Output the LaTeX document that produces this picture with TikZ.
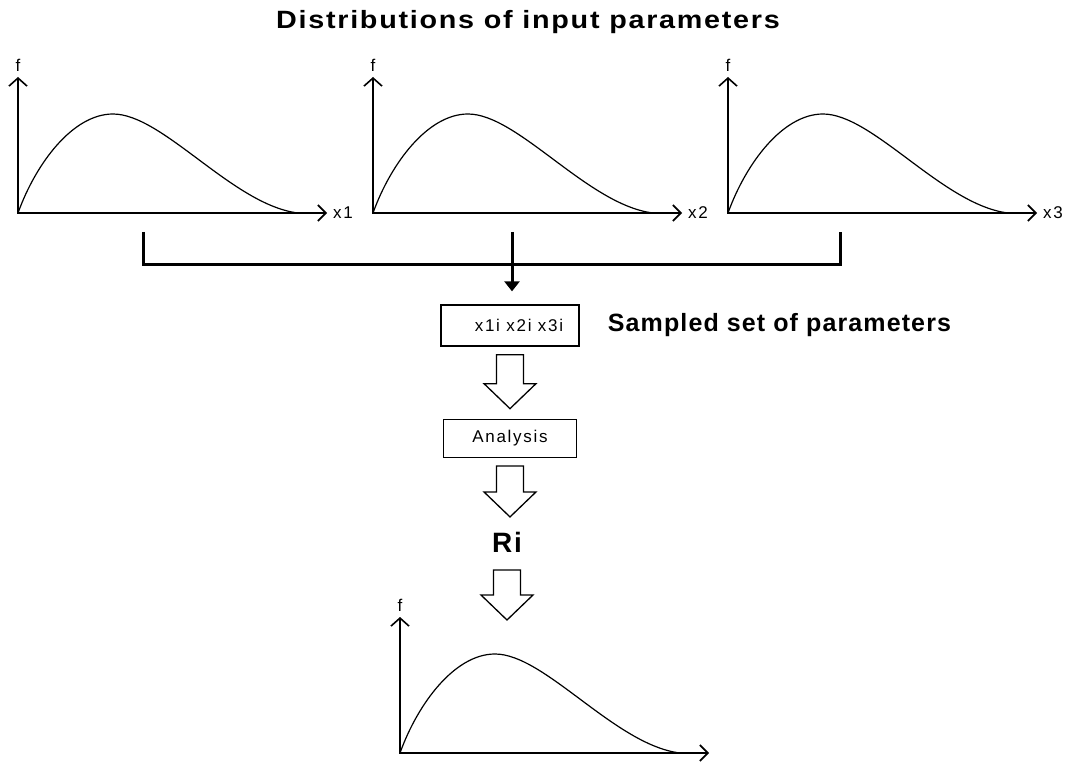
\documentclass[tikz,border=0pt]{standalone}
\usepackage{fontspec}
\setmainfont{Liberation Sans}
\usetikzlibrary{arrows.meta,positioning,calc}

% density curve, drawn from an origin coordinate
\newcommand{\densitycurve}[1]{%
  \draw[curve, shift={(#1)}] (0,0) .. controls (18,-50) and (55,-99) .. (95,-99)
    .. controls (145,-99) and (215,-8) .. (280,0);}
% hollow block arrow from #1 down to #2
\newcommand{\fatarrow}[2]{%
  \draw[fat] let \p1=(#1), \p2=(#2) in
    (\x1-13.5pt,\y1) -- (\x1+13.5pt,\y1) -- (\x1+13.5pt,\y2+25pt) -- (\x1+26pt,\y2+25pt)
    -- (\x1,\y2) -- (\x1-26pt,\y2+25pt) -- (\x1-13.5pt,\y2+25pt) -- cycle;}

\begin{document}
\begin{tikzpicture}[x=1pt, y=-1pt,
    axis/.style={line width=1.6pt, {Straight Barb[length=8pt,width=18pt]}-{Straight Barb[length=8pt,width=16pt]}},
    curve/.style={line width=1.2pt},
    bracket/.style={line width=3pt},
    box/.style={draw, line width=1.3pt, minimum width=138pt, minimum height=41pt, inner sep=0pt},
    fat/.style={line width=1.3pt, line join=miter},
    small/.style={font=\fontsize{17}{20}\selectfont\addfontfeature{LetterSpace=10}, inner sep=0pt},
    heading/.style={font=\fontsize{25}{30}\selectfont\bfseries, inner sep=0pt}]
  \useasboundingbox (0,0) rectangle (1069,762);

  \node (title) [heading] at (528,22) {\scalebox{1.15}[1]{\addfontfeature{LetterSpace=6}Distributions of input parameters}};

  % input distributions
  \coordinate (o1) at (18,213);  \coordinate (y1) at (18,77);  \coordinate (e1) at (327,213);
  \coordinate (o2) at (373,213); \coordinate (y2) at (373,77); \coordinate (e2) at (682,213);
  \coordinate (o3) at (728,213); \coordinate (y3) at (728,77); \coordinate (e3) at (1037,213);
  \draw[axis] (y1) -- (o1) -- (e1);
  \draw[axis] (y2) -- (o2) -- (e2);
  \draw[axis] (y3) -- (o3) -- (e3);
  \densitycurve{o1}
  \densitycurve{o2}
  \densitycurve{o3}
  \node (f1) [small, above=5pt of y1] {f};
  \node (f2) [small, above=5pt of y2] {f};
  \node (f3) [small, above=5pt of y3] {f};
  \node (lx1) [small, right=6pt of e1] {x1};
  \node (lx2) [small, right=6pt of e2] {x2};
  \node (lx3) [small, right=6pt of e3] {x3};

  % sampling
  \node (samp) [box, small] at (510,325.5) {\hspace{18pt}x1i x2i x3i};
  \node (samplabel) [heading, right=28pt of samp] {\addfontfeature{LetterSpace=4.5}Sampled set of parameters};
  \coordinate (t1) at (143,232);
  \coordinate (t2) at (512,232);
  \coordinate (t3) at (840,232);
  \coordinate (hb) at (0,265);
  \draw[bracket] (t1) -- (t1 |- hb) -- (t3 |- hb) -- (t3);
  \draw[bracket, -{Triangle[length=10pt,width=15pt]}, shorten >=13pt] (t2) -- (t2 |- samp.north);

  % analysis and result
  \node (ana) [box, small, minimum width=133pt, minimum height=38pt, below=72pt of samp] {Analysis};
  \node (ri) [heading] at ($(ana.south)+(-3,84)$) {\fontsize{28}{30}\selectfont\addfontfeature{LetterSpace=6}Ri};
  \coordinate (resTip) at (509,620);
  \fatarrow{$(samp.south)+(0,8)$}{$(ana.north)+(0,-10)$}
  \fatarrow{$(ana.south)+(0,8)$}{$(ri.center)+(0,-25)$}
  \fatarrow{$(ri.center)+(0,28)$}{resTip}

  % output distribution
  \coordinate (o4) at (400,753); \coordinate (y4) at (400,617); \coordinate (e4) at (709,753);
  \draw[axis] (y4) -- (o4) -- (e4);
  \densitycurve{o4}
  \node (f4) [small, above=5pt of y4] {f};
\end{tikzpicture}
\end{document}
